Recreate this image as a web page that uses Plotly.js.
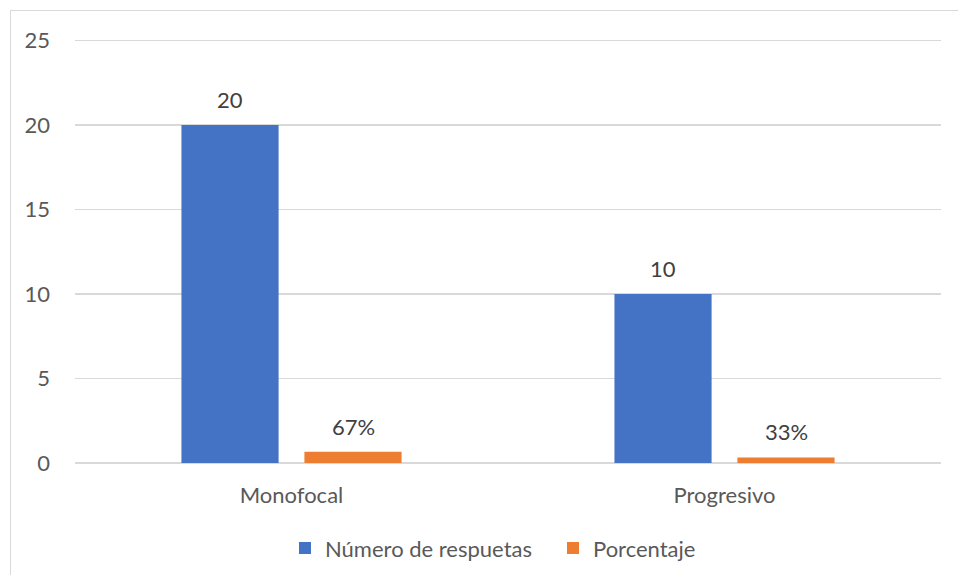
<!DOCTYPE html>
<html>
<head>
<meta charset="utf-8">
<script src="https://cdn.plot.ly/plotly-3.0.1.min.js"></script>
<style>
  html, body { margin: 0; padding: 0; background: #fff; }
  #wrap { position: relative; width: 958px; height: 575px; overflow: hidden; }
  #chart { width: 958px; height: 575px; }
  #frame { position: absolute; left: 10px; top: 10px; right: -2px; bottom: -2px;
           border: 1px solid #d9d9d9; pointer-events: none; }
</style>
</head>
<body>
<div id="wrap">
  <div id="chart"></div>
  <div id="frame"></div>
</div>
<script>
const categories = ["Monofocal", "Progresivo"];
const respuestas = [20, 10];
const porcentaje = [0.67, 0.33];
const porcentajeLabels = ["67%", "33%"];
const seriesNames = ["Número de respuetas", "Porcentaje"];
const yTicks = [0, 5, 10, 15, 20, 25];

const FONT = "Lato, 'Open Sans', sans-serif";
const TXT = "#595959";
const FS = 22;

const traces = [
  { type: "bar", name: seriesNames[0], x: categories, y: respuestas,
    marker: { color: "#4472C4" }, hoverinfo: "skip" },
  { type: "bar", name: seriesNames[1], x: categories, y: porcentaje,
    marker: { color: "#ED7D31" }, hoverinfo: "skip" }
];

const annotations = [];
categories.forEach((c, i) => {
  annotations.push({ x: c, y: respuestas[i], xref: "x", yref: "y", xshift: -61.5, yshift: 10,
    yanchor: "bottom", text: String(respuestas[i]), showarrow: false,
    font: { family: FONT, size: FS, color: "#404040" } });
  annotations.push({ x: c, y: porcentaje[i], xref: "x", yref: "y", xshift: 61.5, yshift: 10,
    yanchor: "bottom", text: porcentajeLabels[i], showarrow: false,
    font: { family: FONT, size: FS, color: "#404040" } });
});

const layout = {
  width: 958, height: 575,
  margin: { l: 75, r: 17, t: 36.6, b: 112, autoexpand: false },
  paper_bgcolor: "#fff", plot_bgcolor: "#fff",
  barmode: "group", bargap: 0.432, bargroupgap: 0.21,
  font: { family: FONT, size: FS, color: TXT },
  xaxis: { type: "category", showgrid: false, zeroline: false, showline: false, automargin: false,
    ticks: "", ticklabelstandoff: 17, tickfont: { family: FONT, size: FS, color: TXT } },
  yaxis: { range: [0, 25.2], tickvals: yTicks, showgrid: true, gridcolor: "#d9d9d9", gridwidth: 1.3,
    zeroline: true, zerolinecolor: "#d9d9d9", zerolinewidth: 1.3, showline: false, ticks: "",
    automargin: false, ticklabelstandoff: 24, tickfont: { family: FONT, size: FS, color: TXT } },
  showlegend: true,
  legend: { orientation: "h", x: 0.2425, xanchor: "left", y: -0.2, yanchor: "middle",
    entrywidth: 223, entrywidthmode: "pixels",
    font: { family: FONT, size: FS, color: TXT }, itemclick: false, traceorder: "normal" },
  annotations: annotations
};

Plotly.newPlot("chart", traces, layout, { displayModeBar: false, staticPlot: true });
</script>
</body>
</html>
